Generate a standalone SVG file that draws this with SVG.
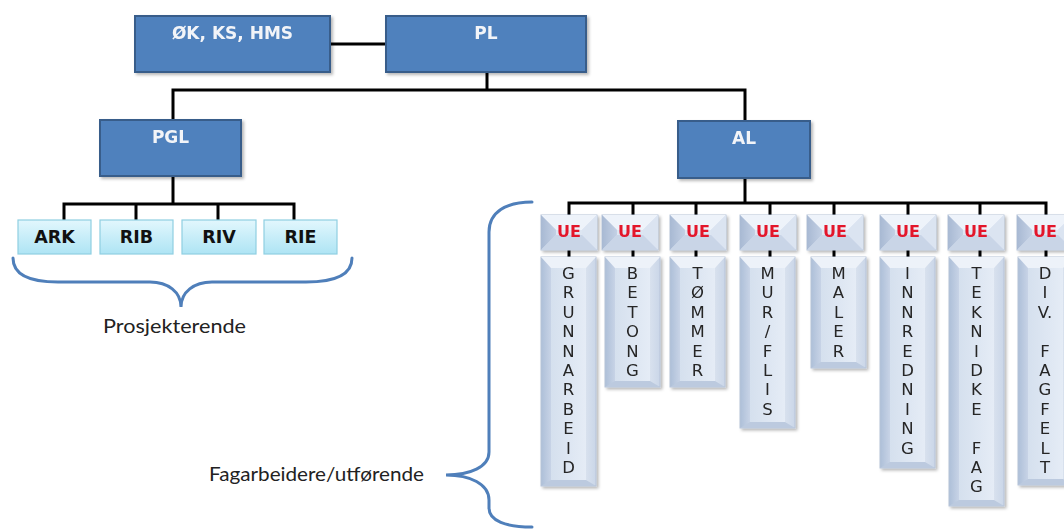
<svg xmlns="http://www.w3.org/2000/svg" xmlns:xlink="http://www.w3.org/1999/xlink" width="1064" height="530" viewBox="0 0 1064 530">
  <style>
    .box-dark { fill: #4f81bd; stroke: #385d8a; stroke-width: 2; }
    .box-light { fill: url(#lightGrad); stroke: #8fcfe2; stroke-width: 1.2; }
    .lbl-dark { font-family: "DejaVu Sans", Verdana, sans-serif; font-weight: bold; font-size: 17px; fill: #f2f4f8; text-anchor: middle; }
    .lbl-light { font-family: "DejaVu Sans", Verdana, sans-serif; font-weight: bold; font-size: 17.5px; fill: #111; text-anchor: middle; }
    .lbl-ue { font-family: "DejaVu Sans", Verdana, sans-serif; font-weight: bold; font-size: 16px; fill: #e3142b; text-anchor: middle; }
    .lbl-col { font-family: "DejaVu Sans", Verdana, sans-serif; font-size: 16.5px; fill: #262626; text-anchor: middle; }
    .note { font-family: Lato, "Liberation Sans", sans-serif; font-size: 20px; fill: #222; }
    .wire { fill: none; stroke: #000; stroke-width: 3; }
    .brace { fill: none; stroke: #4f7fba; stroke-width: 3; stroke-linecap: round; }
    .col-body { fill: url(#colGrad); stroke: #b6c3d8; stroke-width: 1; }
  </style>
  <defs>
    <filter id="shadow" x="-10%" y="-10%" width="130%" height="130%">
      <feDropShadow dx="2" dy="2" stdDeviation="1.5" flood-color="#000" flood-opacity="0.28"/>
    </filter>
    <linearGradient id="lightGrad" x1="0" y1="0" x2="0" y2="1">
      <stop offset="0" stop-color="#e2f7fd"/>
      <stop offset="1" stop-color="#aee4f4"/>
    </linearGradient>
    <linearGradient id="colGrad" x1="0" y1="0" x2="1" y2="0">
      <stop offset="0" stop-color="#adbfd8"/>
      <stop offset="0.18" stop-color="#c7d3e6"/>
      <stop offset="0.18" stop-color="#d5e0ee"/>
      <stop offset="0.82" stop-color="#e5ecf6"/>
      <stop offset="0.82" stop-color="#d8e1ee"/>
      <stop offset="1" stop-color="#cad6e8"/>
    </linearGradient>
    <linearGradient id="ueLeft" x1="0" y1="0" x2="1" y2="0">
      <stop offset="0" stop-color="#a8b9d3"/>
      <stop offset="1" stop-color="#c3d0e4"/>
    </linearGradient>
    <!-- bevelled "UE" tile, 56 x 35 -->
    <g id="ue-tile">
      <rect x="0" y="0" width="56" height="35" fill="#d5dfee" stroke="#b6c3d8" stroke-width="1"/>
      <polygon points="0,0 56,0 41,15 15,15" fill="#eef3fa"/>
      <polygon points="0,0 15,15 15,20 0,35" fill="url(#ueLeft)"/>
      <polygon points="56,0 56,35 41,20 41,15" fill="#dbe4f1"/>
      <polygon points="0,35 15,20 41,20 56,35" fill="#c9d5e7"/>
      <rect x="15" y="15" width="26" height="5" fill="#dde6f2"/>
    </g>
    <!-- top and bottom bevels of the tall trade columns -->
    <polygon id="col-top" points="0,0 55,0 45,11 10,11" fill="#edf2f9"/>
    <polygon id="col-bottom" points="0,0 10,-6 45,-6 55,0" fill="#bccadf"/>
  </defs>

  <!-- connectors -->
  <g id="connectors">
    <path class="wire" d="M330 44 H386"/>
    <path class="wire" d="M487 72 V90"/>
    <path class="wire" d="M173 120 V90 H745 V121"/>
    <path class="wire" d="M173 176 V204"/>
    <path class="wire" d="M64 220 V204 H294 V220"/>
    <path class="wire" d="M136 204 V220 M218 204 V220"/>
    <path class="wire" d="M745 178 V203"/>
    <path class="wire" d="M569 215 V203 H1046 V215"/>
    <path class="wire" d="M633 203 V215 M696 203 V215 M770 203 V215 M834 203 V215 M908 203 V215 M980 203 V215"/>
    <path class="wire" d="M569 250 V257 M633 250 V257 M696 250 V257 M770 250 V257 M834 250 V257 M908 250 V257 M980 250 V257 M1046 250 V257"/>
  </g>

  <!-- management -->
  <g id="node-okkshms" filter="url(#shadow)">
    <rect class="box-dark" x="135" y="16" width="195" height="56"/>
    <text class="lbl-dark" x="232.5" y="39">ØK, KS, HMS</text>
  </g>
  <g id="node-pl" filter="url(#shadow)">
    <rect class="box-dark" x="386" y="16" width="200" height="56"/>
    <text class="lbl-dark" x="486" y="39">PL</text>
  </g>
  <g id="node-pgl" filter="url(#shadow)">
    <rect class="box-dark" x="100" y="120" width="141" height="56"/>
    <text class="lbl-dark" x="170.5" y="143">PGL</text>
  </g>
  <g id="node-al" filter="url(#shadow)">
    <rect class="box-dark" x="678" y="121" width="132" height="57"/>
    <text class="lbl-dark" x="744" y="144">AL</text>
  </g>

  <!-- design consultants -->
  <g id="node-ark">
    <rect class="box-light" x="18" y="220" width="73" height="34"/>
    <text class="lbl-light" x="54.5" y="243">ARK</text>
  </g>
  <g id="node-rib">
    <rect class="box-light" x="100" y="220" width="73" height="34"/>
    <text class="lbl-light" x="136.5" y="243">RIB</text>
  </g>
  <g id="node-riv">
    <rect class="box-light" x="182" y="220" width="74" height="34"/>
    <text class="lbl-light" x="219" y="243">RIV</text>
  </g>
  <g id="node-rie">
    <rect class="box-light" x="264" y="220" width="73" height="34"/>
    <text class="lbl-light" x="300.5" y="243">RIE</text>
  </g>

  <!-- subcontractors -->
  <g id="node-ue1" filter="url(#shadow)"><use href="#ue-tile" x="541" y="215"/><text class="lbl-ue" x="569" y="237">UE</text></g>
  <g id="node-ue2" filter="url(#shadow)"><use href="#ue-tile" x="602" y="215"/><text class="lbl-ue" x="630" y="237">UE</text></g>
  <g id="node-ue3" filter="url(#shadow)"><use href="#ue-tile" x="670" y="215"/><text class="lbl-ue" x="698" y="237">UE</text></g>
  <g id="node-ue4" filter="url(#shadow)"><use href="#ue-tile" x="740" y="215"/><text class="lbl-ue" x="768" y="237">UE</text></g>
  <g id="node-ue5" filter="url(#shadow)"><use href="#ue-tile" x="807" y="215"/><text class="lbl-ue" x="835" y="237">UE</text></g>
  <g id="node-ue6" filter="url(#shadow)"><use href="#ue-tile" x="880" y="215"/><text class="lbl-ue" x="908" y="237">UE</text></g>
  <g id="node-ue7" filter="url(#shadow)"><use href="#ue-tile" x="948" y="215"/><text class="lbl-ue" x="976" y="237">UE</text></g>
  <g id="node-ue8" filter="url(#shadow)"><use href="#ue-tile" x="1017" y="215"/><text class="lbl-ue" x="1045" y="237">UE</text></g>

  <!-- trades -->
  <g id="node-grunnarbeid" filter="url(#shadow)">
    <rect class="col-body" x="541" y="257" width="55" height="229"/>
    <use href="#col-top" x="541" y="257"/><use href="#col-bottom" x="541" y="486"/>
    <text class="lbl-col" x="568.5" y="279"><tspan x="568.5">G</tspan><tspan x="568.5" dy="19.4">R</tspan><tspan x="568.5" dy="19.4">U</tspan><tspan x="568.5" dy="19.4">N</tspan><tspan x="568.5" dy="19.4">N</tspan><tspan x="568.5" dy="19.4">A</tspan><tspan x="568.5" dy="19.4">R</tspan><tspan x="568.5" dy="19.4">B</tspan><tspan x="568.5" dy="19.4">E</tspan><tspan x="568.5" dy="19.4">I</tspan><tspan x="568.5" dy="19.4">D</tspan></text>
  </g>
  <g id="node-betong" filter="url(#shadow)">
    <rect class="col-body" x="605" y="257" width="55" height="130"/>
    <use href="#col-top" x="605" y="257"/><use href="#col-bottom" x="605" y="387"/>
    <text class="lbl-col" x="632.5" y="279"><tspan x="632.5">B</tspan><tspan x="632.5" dy="19.4">E</tspan><tspan x="632.5" dy="19.4">T</tspan><tspan x="632.5" dy="19.4">O</tspan><tspan x="632.5" dy="19.4">N</tspan><tspan x="632.5" dy="19.4">G</tspan></text>
  </g>
  <g id="node-tommer" filter="url(#shadow)">
    <rect class="col-body" x="670" y="257" width="55" height="130"/>
    <use href="#col-top" x="670" y="257"/><use href="#col-bottom" x="670" y="387"/>
    <text class="lbl-col" x="697.5" y="279"><tspan x="697.5">T</tspan><tspan x="697.5" dy="19.4">Ø</tspan><tspan x="697.5" dy="19.4">M</tspan><tspan x="697.5" dy="19.4">M</tspan><tspan x="697.5" dy="19.4">E</tspan><tspan x="697.5" dy="19.4">R</tspan></text>
  </g>
  <g id="node-murflis" filter="url(#shadow)">
    <rect class="col-body" x="740" y="257" width="55" height="171"/>
    <use href="#col-top" x="740" y="257"/><use href="#col-bottom" x="740" y="428"/>
    <text class="lbl-col" x="767.5" y="279"><tspan x="767.5">M</tspan><tspan x="767.5" dy="19.4">U</tspan><tspan x="767.5" dy="19.4">R</tspan><tspan x="767.5" dy="19.4">/</tspan><tspan x="767.5" dy="19.4">F</tspan><tspan x="767.5" dy="19.4">L</tspan><tspan x="767.5" dy="19.4">I</tspan><tspan x="767.5" dy="19.4">S</tspan></text>
  </g>
  <g id="node-maler" filter="url(#shadow)">
    <rect class="col-body" x="811" y="257" width="55" height="111"/>
    <use href="#col-top" x="811" y="257"/><use href="#col-bottom" x="811" y="368"/>
    <text class="lbl-col" x="838.5" y="279"><tspan x="838.5">M</tspan><tspan x="838.5" dy="19.4">A</tspan><tspan x="838.5" dy="19.4">L</tspan><tspan x="838.5" dy="19.4">E</tspan><tspan x="838.5" dy="19.4">R</tspan></text>
  </g>
  <g id="node-innredning" filter="url(#shadow)">
    <rect class="col-body" x="880" y="257" width="55" height="211"/>
    <use href="#col-top" x="880" y="257"/><use href="#col-bottom" x="880" y="468"/>
    <text class="lbl-col" x="907.5" y="279"><tspan x="907.5">I</tspan><tspan x="907.5" dy="19.4">N</tspan><tspan x="907.5" dy="19.4">N</tspan><tspan x="907.5" dy="19.4">R</tspan><tspan x="907.5" dy="19.4">E</tspan><tspan x="907.5" dy="19.4">D</tspan><tspan x="907.5" dy="19.4">N</tspan><tspan x="907.5" dy="19.4">I</tspan><tspan x="907.5" dy="19.4">N</tspan><tspan x="907.5" dy="19.4">G</tspan></text>
  </g>
  <g id="node-tekniske" filter="url(#shadow)">
    <rect class="col-body" x="949" y="257" width="55" height="249"/>
    <use href="#col-top" x="949" y="257"/><use href="#col-bottom" x="949" y="506"/>
    <text class="lbl-col" x="976.5" y="279"><tspan x="976.5">T</tspan><tspan x="976.5" dy="19.4">E</tspan><tspan x="976.5" dy="19.4">K</tspan><tspan x="976.5" dy="19.4">N</tspan><tspan x="976.5" dy="19.4">I</tspan><tspan x="976.5" dy="19.4">D</tspan><tspan x="976.5" dy="19.4">K</tspan><tspan x="976.5" dy="19.4">E</tspan><tspan x="976.5" dy="38.8">F</tspan><tspan x="976.5" dy="19.4">A</tspan><tspan x="976.5" dy="19.4">G</tspan></text>
  </g>
  <g id="node-divfagfelt" filter="url(#shadow)">
    <rect class="col-body" x="1018" y="257" width="55" height="228"/>
    <use href="#col-top" x="1018" y="257"/><use href="#col-bottom" x="1018" y="485"/>
    <text class="lbl-col" x="1045" y="279"><tspan x="1045">D</tspan><tspan x="1045" dy="19.4">I</tspan><tspan x="1045" dy="19.4">V.</tspan><tspan x="1045" dy="38.8">F</tspan><tspan x="1045" dy="19.4">A</tspan><tspan x="1045" dy="19.4">G</tspan><tspan x="1045" dy="19.4">F</tspan><tspan x="1045" dy="19.4">E</tspan><tspan x="1045" dy="19.4">L</tspan><tspan x="1045" dy="19.4">T</tspan></text>
  </g>

  <!-- group braces and captions -->
  <g id="brace-design">
    <path class="brace" d="M13 258 C13 274 28 282 58 282 L150 282 C168 282 181 292 181 307 C181 292 194 282 212 282 L306 282 C336 282 352 274 352 258"/>
    <text class="note" x="103" y="333" textLength="143" lengthAdjust="spacingAndGlyphs">Prosjekterende</text>
  </g>
  <g id="brace-trades">
    <path class="brace" d="M532 202 C506 202 489 212 489 232 L489 452 C489 467 470 475 446 475 C470 475 489 484 489 500 L489 508 C489 521 506 527 532 527"/>
    <text class="note" x="209" y="481" textLength="215" lengthAdjust="spacingAndGlyphs">Fagarbeidere/utførende</text>
  </g>
</svg>
